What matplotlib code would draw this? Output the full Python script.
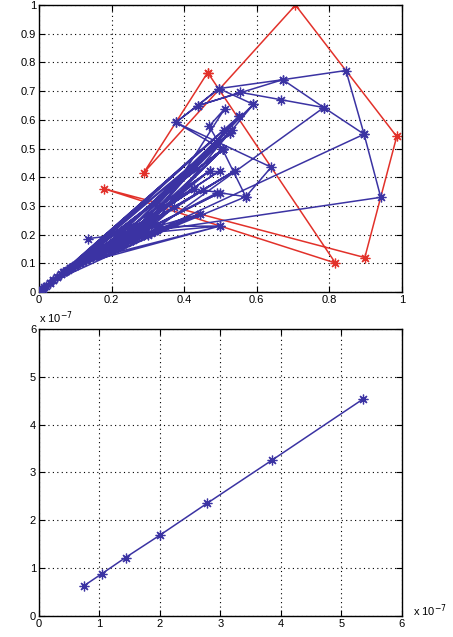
import matplotlib
matplotlib.use("Agg")
import matplotlib.pyplot as plt
from matplotlib.ticker import FixedLocator, FixedFormatter

plt.rcParams['font.family'] = ['Liberation Sans', 'DejaVu Sans']

# ---- top panel data ----
red_x = [0.465, 0.817, 0.179, 0.898, 0.986, 0.707, 0.289, 0.465]
red_y = [0.765, 0.101, 0.360, 0.120, 0.542, 1.000, 0.416, 0.765]

blue_x = [0.134, 0.324, 0.942, 0.896, 0.846, 0.672, 0.496, 0.437, 0.555, 0.668, 0.785,
          0.896, 0.300, 0.785, 0.672, 0.437, 0.377, 0.640, 0.570, 0.506, 0.377, 0.496,
          0.591, 0.290, 0.512, 0.469, 0.506, 0.260, 0.551, 0.230, 0.527, 0.200, 0.591,
          0.170, 0.531, 0.150, 0.540, 0.130, 0.499, 0.113, 0.471, 0.100, 0.506, 0.085,
          0.453, 0.570, 0.067, 0.427, 0.050, 0.491, 0.030, 0.444, 0.324, 0.499, 0.290,
          0.373, 0.260, 0.506, 0.230, 0.471, 0.200, 0.540, 0.170, 0.427, 0.150, 0.499,
          0.130, 0.444, 0.113, 0.499, 0.100,
          0.551, 0.060, 0.506, 0.080, 0.527, 0.040, 0.510, 0.090, 0.506, 0.070,
          0.330, 0.310, 0.320, 0.280, 0.300, 0.260, 0.270, 0.240, 0.250, 0.220,
          0.230, 0.200, 0.210, 0.180, 0.190, 0.160, 0.170, 0.140, 0.150, 0.120,
          0.130, 0.100, 0.110, 0.085, 0.090, 0.070, 0.075, 0.060, 0.050, 0.040,
          0.030, 0.020, 0.015, 0.010, 0.005, 0.002, 0.000]
blue_y = [0.186, 0.215, 0.330, 0.550, 0.772, 0.740, 0.709, 0.649, 0.696, 0.670, 0.643,
          0.550, 0.200, 0.643, 0.740, 0.649, 0.591, 0.435, 0.332, 0.497, 0.591, 0.709,
          0.654, 0.200, 0.639, 0.578, 0.497, 0.185, 0.612, 0.170, 0.555, 0.155, 0.654,
          0.138, 0.564, 0.125, 0.423, 0.115, 0.423, 0.105, 0.423, 0.092, 0.497, 0.082,
          0.355, 0.332, 0.068, 0.358, 0.052, 0.346, 0.032, 0.272, 0.228, 0.230, 0.205,
          0.297, 0.190, 0.497, 0.172, 0.423, 0.156, 0.423, 0.140, 0.358, 0.126, 0.346,
          0.116, 0.272, 0.106, 0.230, 0.093,
          0.612, 0.062, 0.497, 0.076, 0.555, 0.042, 0.564, 0.086, 0.497, 0.070,
          0.222, 0.206, 0.214, 0.196, 0.202, 0.182, 0.190, 0.170, 0.178, 0.160,
          0.168, 0.150, 0.158, 0.140, 0.147, 0.128, 0.136, 0.118, 0.124, 0.105,
          0.112, 0.092, 0.100, 0.082, 0.086, 0.070, 0.073, 0.062, 0.052, 0.042,
          0.032, 0.022, 0.016, 0.011, 0.006, 0.003, 0.000]

top_ticks = [0, 0.1, 0.2, 0.3, 0.4, 0.5, 0.6, 0.7, 0.8, 0.9, 1]
top_ylabels = ['0', '0.1', '0.2', '0.3', '0.4', '0.5', '0.6', '0.7', '0.8', '0.9', '1']
top_xticks = [0, 0.2, 0.4, 0.6, 0.8, 1]
top_xlabels = ['0', '0.2', '0.4', '0.6', '0.8', '1']

# ---- bottom panel data ----
low_x = [0.749e-7, 1.036e-7, 1.432e-7, 2.000e-7, 2.777e-7, 3.857e-7, 5.355e-7]
low_y = [0.636e-7, 0.880e-7, 1.222e-7, 1.690e-7, 2.353e-7, 3.261e-7, 4.532e-7]
low_ticks = [0, 1e-7, 2e-7, 3e-7, 4e-7, 5e-7, 6e-7]
low_labels = ['0', '1', '2', '3', '4', '5', '6']

BLUE = '#3b33a3'
RED = '#e2312a'
MK = (8, 2, 0)

fig = plt.figure(figsize=(4.53, 6.37), dpi=100)
ax1 = fig.add_axes([0.086, 0.5416, 0.801, 0.4504])
ax2 = fig.add_axes([0.086, 0.033, 0.801, 0.4505])

def style(ax):
    ax.grid(True, color='black', linestyle=(0, (1, 3)), linewidth=0.8)
    ax.set_axisbelow(True)
    ax.tick_params(direction='in', top=True, right=True, labelsize=8, length=4,
                   width=0.8, pad=2)
    for s in ax.spines.values():
        s.set_linewidth(1.0)

ax1.plot(blue_x, blue_y, color=BLUE, lw=1.1, marker=MK, ms=7, mew=0.9, zorder=3)
ax1.plot(red_x, red_y, color=RED, lw=1.1, marker=MK, ms=7, mew=0.9, zorder=2)
ax1.set_xlim(0, 1)
ax1.set_ylim(0, 1)
ax1.xaxis.set_major_locator(FixedLocator(top_xticks))
ax1.xaxis.set_major_formatter(FixedFormatter(top_xlabels))
ax1.yaxis.set_major_locator(FixedLocator(top_ticks))
ax1.yaxis.set_major_formatter(FixedFormatter(top_ylabels))
style(ax1)

ax2.plot(low_x, low_y, color=BLUE, lw=1.1, marker=MK, ms=7, mew=0.9)
ax2.set_xlim(0, 6e-7)
ax2.set_ylim(0, 6e-7)
ax2.xaxis.set_major_locator(FixedLocator(low_ticks))
ax2.xaxis.set_major_formatter(FixedFormatter(low_labels))
ax2.yaxis.set_major_locator(FixedLocator(low_ticks))
ax2.yaxis.set_major_formatter(FixedFormatter(low_labels))
style(ax2)
ax2.text(0.0, 1.012, r'x 10$^{-7}$', transform=ax2.transAxes, fontsize=8,
         ha='left', va='bottom')
ax2.text(1.03, -0.01, r'x 10$^{-7}$', transform=ax2.transAxes, fontsize=8,
         ha='left', va='bottom')

fig.savefig('out.png', dpi=100)
